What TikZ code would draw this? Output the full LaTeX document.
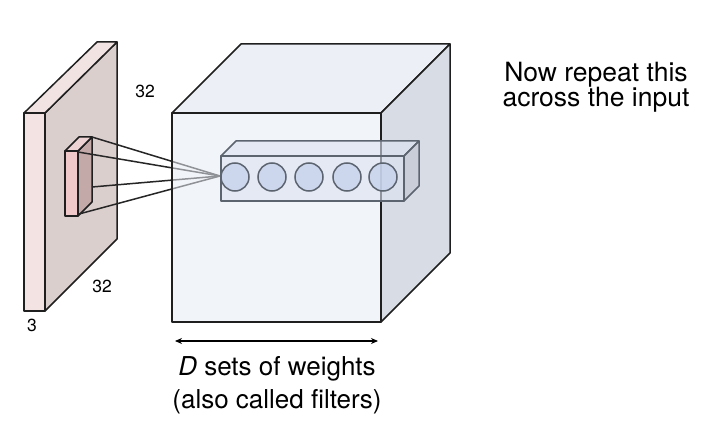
\documentclass[tikz,border=0pt]{standalone}
\usepackage{fontspec}
\setmainfont{TeX Gyre Heros}
\usetikzlibrary{arrows.meta}
\definecolor{slabfront}{HTML}{F4E3E3}
\definecolor{slabtop}{HTML}{F2E3E3}
\definecolor{slabside}{HTML}{DBCFCE}
\definecolor{filtfront}{HTML}{F0CACA}
\definecolor{filtside}{HTML}{C4A9A9}
\definecolor{filttop}{HTML}{EDD3D3}
\definecolor{cubefront}{HTML}{E7EBF5}
\definecolor{cubetop}{HTML}{ECF0F6}
\definecolor{cubeside}{HTML}{D8DCE5}
\definecolor{boxfill}{HTML}{DCE3F1}
\definecolor{boxedge}{HTML}{5C6470}
\definecolor{neuron}{HTML}{C6D3EC}
\tikzset{
  edge/.style={draw=black!88, line width=1.5pt, line join=round},
  conn/.style={draw=black!85, line width=1.5pt},
  boxface/.style={draw=boxedge, line width=1.5pt, line join=round},
  neuronstyle/.style={circle, draw=boxedge, line width=1.5pt, fill=neuron, fill opacity=0.8, minimum size=28pt, inner sep=0pt},
  lbl/.style={font=\fontsize{17.5}{20}\selectfont, inner sep=0pt},
  caption/.style={font=\fontsize{26}{32.5}\selectfont, align=center, inner sep=0pt, anchor=base},
  sidetext/.style={font=\fontsize{26.5}{25.5}\selectfont, align=center, inner sep=0pt, anchor=base}
}
\begin{document}
\begin{tikzpicture}[x=1pt,y=-1pt]
\useasboundingbox[fill=white] (0,0) rectangle (718,422);
% input slab
\path[edge, fill=slabside] (45,113) -- (117,42) -- (117,239) -- (45,311) -- cycle;
\path[edge, fill=slabtop] (24,113) -- (97,42) -- (117,42) -- (45,113) -- cycle;
\path[edge, fill=slabfront] (24,113) rectangle (45,311);
% filter block
\path[edge, fill=filtside] (78,151) -- (92,137) -- (92,202) -- (78,216) -- cycle;
\path[edge, fill=filttop] (65,151) -- (79,137) -- (92,137) -- (78,151) -- cycle;
\path[edge, fill=filtfront] (65,151) rectangle (78,216);
\coordinate (f1) at (92,137);
\coordinate (f2) at (78,152);
\coordinate (f3) at (92,187);
\coordinate (f4) at (79,214);
\coordinate (tip) at (220,176);
% connectors
\draw[conn] (f1) -- (tip);
\draw[conn] (f2) -- (tip);
\draw[conn] (f3) -- (tip);
\draw[conn] (f4) -- (tip);
% cube
\path[edge, fill=cubetop] (172,113) -- (241,44) -- (450,44) -- (381,113) -- cycle;
\path[edge, fill=cubeside] (381,113) -- (450,44) -- (450,253) -- (381,322) -- cycle;
\path[fill=cubefront, fill opacity=0.55] (172,113) rectangle (381,322);
\path[edge] (172,113) rectangle (381,322);
% filter row box
\path[boxface, fill=boxfill, fill opacity=0.6] (221,156) -- (236,141) -- (419,141) -- (404,156) -- cycle;
\path[boxface, fill=boxfill!85!black, fill opacity=0.5] (404,156) -- (419,141) -- (419,186) -- (404,201) -- cycle;
\path[boxface, fill=boxfill, fill opacity=0.6] (221,156) rectangle (404,201);
\node[neuronstyle] (n1) at (235,177) {};
\node[neuronstyle] (n2) at (272,177) {};
\node[neuronstyle] (n3) at (309,177) {};
\node[neuronstyle] (n4) at (347,177) {};
\node[neuronstyle] (n5) at (383,177) {};
% arrow
\coordinate (al) at (175,341);
\coordinate (ar) at (378,341);
\draw[line width=1.5pt, {Stealth[length=7pt,width=6pt]}-{Stealth[length=7pt,width=6pt]}] (al) -- (ar);
% labels
\node[lbl] (l32a) at (145,91) {32};
\node[lbl] (l32b) at (102,286) {32};
\node[lbl] (l3) at (32,325) {3};
\node[caption] (cap) at (277,408) {\textit{D} sets of weights\\(also called filters)};
\node[sidetext] (rep) at (596,107) {Now repeat this\\across the input};
\end{tikzpicture}
\end{document}
